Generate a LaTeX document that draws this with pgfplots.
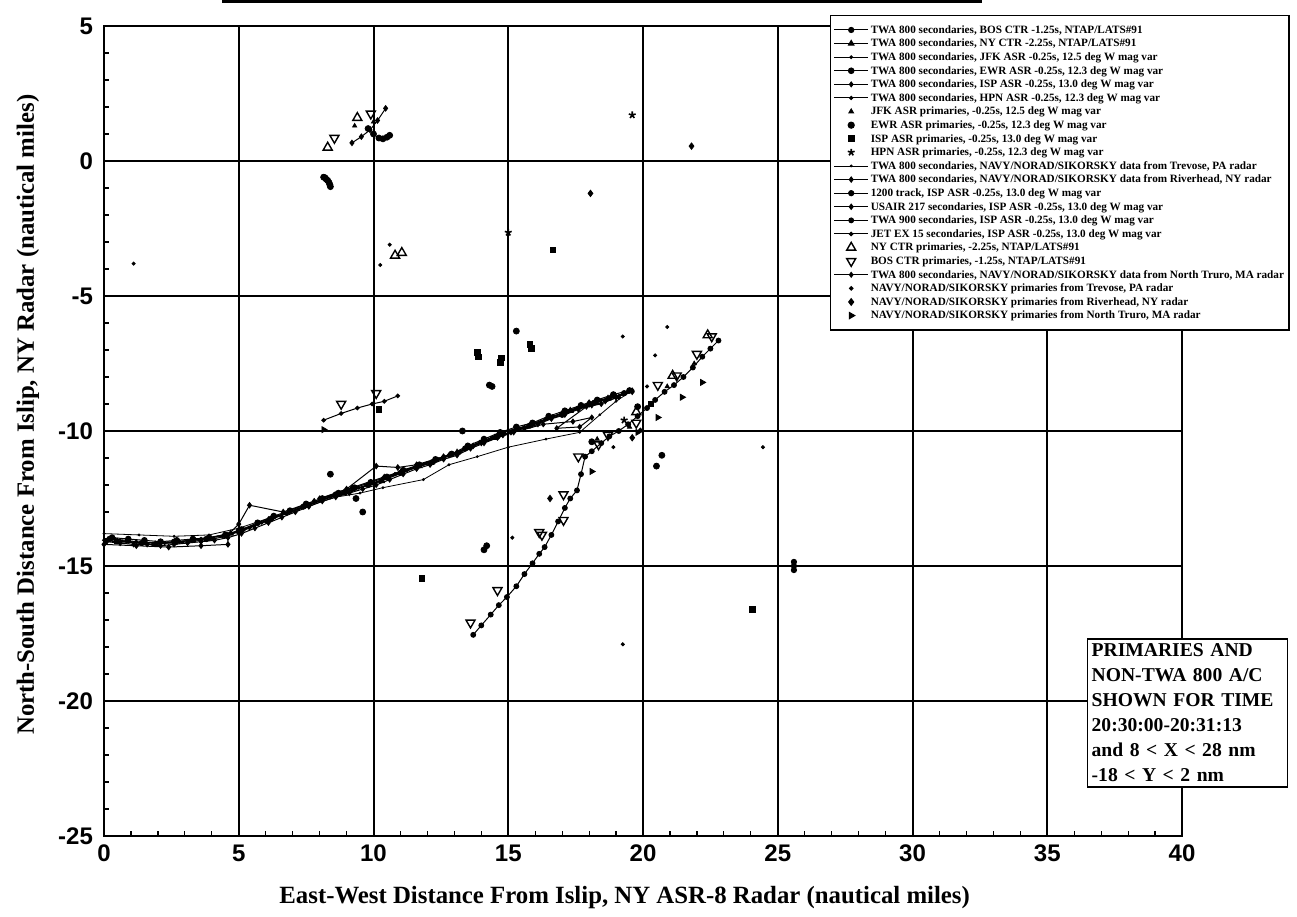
\documentclass[border=0pt]{standalone}
\usepackage{fontspec}
\setmainfont{Liberation Serif}
\newfontfamily\sansf{Liberation Sans}
\usepackage{pgfplots}
\pgfplotsset{compat=1.18}
\pgfplotsset{
  trk/.style={black, line width=0.5pt, mark options={solid, fill=black}},
  prm/.style={black, only marks, mark options={solid, fill=black}},
}
\begin{document}
\begin{tikzpicture}
\begin{axis}[
  name=ax,
  scale only axis,
  width=539pt, height=405pt,
  xmin=0, xmax=40, ymin=-25, ymax=5,
  xtick={0,5,...,40}, ytick={-25,-20,...,5},
  minor tick num=4,
  xtick pos=left, ytick pos=left,
  tick align=inside,
  minor tick length=2.6pt, major tick length=0pt,
  grid=major,
  major grid style={black, line width=1pt},
  axis line style={black, line width=1pt},
  tick style={black, line width=0.6pt},
  /pgf/number format/assume math mode=true,
  tick label style={font=\sansf\bfseries\fontsize{12}{12}\selectfont},
  xticklabel style={yshift=-1pt},
  yticklabel style={xshift=-2pt},
  xlabel={East-West Distance From Islip, NY ASR-8 Radar (nautical miles)},
  ylabel={North-South Distance From Islip, NY Radar (nautical miles)},
  label style={font=\bfseries\fontsize{12.4}{14}\selectfont},
  xlabel style={at={(axis description cs:0.483,0)}, anchor=center, yshift=-31pt},
  ylabel style={at={(axis description cs:-0.0705,0.52)}, anchor=center},
  clip=false,
  legend cell align=left,
  legend style={at={(0.6735,1.0136)}, anchor=north west, draw=black, line width=0.6pt,
    fill=white, font=\bfseries\fontsize{5.6}{6}\selectfont,
    inner xsep=1.5pt, inner ysep=3.8pt,
    nodes={inner ysep=0.5pt, inner xsep=1pt, text height=4.6pt, text depth=1.2pt}},
]
% 1 BOS CTR secondaries
\addplot[trk, mark=*, mark size=1.3pt] coordinates {
(0.2,-14.0) (1.4,-14.15) (2.6,-14.1) (3.8,-14.0) (5.0,-13.7) (6.2,-13.25) (7.4,-12.8)
(8.6,-12.35) (9.8,-12.0) (11.0,-11.55) (12.2,-11.15) (13.4,-10.65) (14.6,-10.2)
(15.8,-9.8) (17.0,-9.4) (18.2,-8.95) (19.3,-8.6)};
\addlegendentry{TWA 800 secondaries, BOS CTR -1.25s, NTAP/LATS\#91}
% 2 NY CTR secondaries
\addplot[trk, mark=triangle*, mark size=1.6pt] coordinates {
(0.5,-14.1) (1.9,-14.2) (3.3,-14.05) (4.7,-13.8) (6.1,-13.3) (7.5,-12.75) (8.9,-12.3)
(10.3,-11.85) (11.7,-11.3) (13.1,-10.8) (14.5,-10.25) (15.9,-9.75) (17.3,-9.25) (18.7,-8.8)};
\addlegendentry{TWA 800 secondaries, NY CTR -2.25s, NTAP/LATS\#91}
% 3 JFK ASR secondaries
\addplot[trk, mark=*, mark size=0.7pt] coordinates {
(0.0,-14.05) (0.45,-14.1) (0.9,-14.1) (1.35,-14.15) (1.8,-14.2) (2.25,-14.15) (2.7,-14.15)
(3.15,-14.1) (3.6,-14.05) (4.05,-14.0) (4.5,-13.9) (4.95,-13.75) (5.4,-13.6) (5.85,-13.4)
(6.3,-13.2) (6.75,-13.05) (7.2,-12.9) (7.65,-12.7) (8.1,-12.55) (8.55,-12.4) (9.0,-12.25)
(9.45,-12.1) (9.9,-11.95) (10.35,-11.8) (10.8,-11.6) (11.25,-11.45) (11.7,-11.3)
(12.15,-11.2) (12.6,-11.0) (13.05,-10.85) (13.5,-10.6) (13.95,-10.4) (14.4,-10.25)
(14.85,-10.05) (15.3,-9.9) (15.75,-9.8) (16.2,-9.65) (16.65,-9.45) (17.1,-9.3)
(17.55,-9.15) (18.0,-9.0) (18.45,-8.85) (18.9,-8.7)};
\addlegendentry{TWA 800 secondaries, JFK ASR -0.25s, 12.5 deg W mag var}
% 4 EWR ASR secondaries
\addplot[trk, mark=*, mark size=1.4pt] coordinates {
(0.3,-13.95) (0.9,-14.0) (1.5,-14.05) (2.1,-14.1) (2.7,-14.05) (3.3,-14.0) (3.9,-13.95)
(4.5,-13.85) (5.1,-13.65) (5.7,-13.4) (6.3,-13.15) (6.9,-12.95) (7.5,-12.7) (8.1,-12.5)
(8.7,-12.3) (9.3,-12.1) (9.9,-11.9) (10.5,-11.7) (11.1,-11.45) (11.7,-11.25) (12.3,-11.05)
(12.9,-10.85) (13.5,-10.55) (14.1,-10.3) (14.7,-10.05) (15.3,-9.85) (15.9,-9.7)
(16.5,-9.45) (17.1,-9.25) (17.7,-9.05) (18.3,-8.85) (18.9,-8.65) (19.5,-8.5)};
\addlegendentry{TWA 800 secondaries, EWR ASR -0.25s, 12.3 deg W mag var}
% 5 ISP ASR secondaries
\addplot[trk, mark=diamond*, mark size=1.2pt] coordinates {
(0.1,-14.1) (0.6,-14.15) (1.1,-14.2) (1.6,-14.2) (2.1,-14.25) (2.6,-14.2) (3.1,-14.15)
(3.6,-14.1) (4.1,-14.05) (4.6,-13.95) (5.1,-13.8) (5.6,-13.6) (6.1,-13.4) (6.6,-13.2)
(7.1,-13.0) (7.6,-12.8) (8.1,-12.6) (8.6,-12.45) (9.1,-12.3) (9.6,-12.15) (10.1,-12.0)
(10.6,-11.8) (11.1,-11.6) (11.6,-11.4) (12.1,-11.25) (12.6,-11.05) (13.1,-10.9)
(13.6,-10.65) (14.1,-10.45) (14.6,-10.25) (15.1,-10.05) (15.6,-9.9) (16.1,-9.75)
(16.6,-9.55) (17.1,-9.4) (17.6,-9.2) (18.1,-9.05) (18.6,-8.9) (19.1,-8.75)};
\addlegendentry{TWA 800 secondaries, ISP ASR -0.25s, 13.0 deg W mag var}
% 6 HPN ASR secondaries
\addplot[trk, mark=*, mark size=0.8pt] coordinates {
(0.4,-14.0) (1.2,-14.1) (2.0,-14.15) (2.8,-14.1) (3.6,-14.0) (4.4,-13.9) (5.2,-13.65)
(6.0,-13.35) (6.8,-13.05) (7.6,-12.75) (8.4,-12.45) (9.2,-12.2) (10.0,-11.95) (10.8,-11.6)
(11.6,-11.3) (12.4,-11.05) (13.2,-10.8) (14.0,-10.4) (14.8,-10.05) (15.6,-9.85)
(16.4,-9.55) (17.2,-9.3) (18.0,-9.05) (18.8,-8.75) (19.6,-8.55)};
\addlegendentry{TWA 800 secondaries, HPN ASR -0.25s, 12.3 deg W mag var}
% 7 JFK ASR primaries
\addplot[prm, mark=triangle*, mark size=1.2pt] coordinates {
(18.3,-10.3) (19.5,-9.85) (20.9,-8.35) (21.9,-7.5) (9.3,1.3) (10.0,1.45)};
\addlegendentry{JFK ASR primaries, -0.25s, 12.5 deg W mag var}
% 8 EWR ASR primaries
\addplot[prm, mark=*, mark size=1.5pt] coordinates {
(15.3,-6.3) (14.3,-8.3) (14.4,-8.35) (20.7,-10.9) (20.5,-11.3) (13.3,-10.0) (8.4,-11.6)
(9.6,-13.0) (14.1,-14.4) (14.2,-14.25) (9.8,1.2) (10.0,1.0) (10.2,0.85) (10.35,0.82)
(10.5,0.88) (10.6,0.95) (8.15,-0.6) (8.2,-0.62) (8.25,-0.68) (8.3,-0.72) (8.35,-0.8)
(8.38,-0.88) (8.4,-0.95) (9.35,-12.5) (18.1,-10.4) (19.8,-9.1)};
\addlegendentry{EWR ASR primaries, -0.25s, 12.3 deg W mag var}
% 9 ISP ASR primaries
\addplot[prm, mark=square*, mark size=1.4pt] coordinates {
(15.8,-6.8) (15.85,-6.95) (13.85,-7.1) (13.9,-7.25) (14.75,-7.3) (14.7,-7.45) (16.65,-3.3)
(24.05,-16.6) (11.8,-15.45) (10.2,-9.2) (20.3,-9.0)};
\addlegendentry{ISP ASR primaries, -0.25s, 13.0 deg W mag var}
% 10 HPN ASR primaries
\addplot[prm, mark=star, mark size=1.8pt, mark options={line width=0.8pt}] coordinates {
(19.6,1.7) (15.0,-2.65) (19.3,-9.6)};
\addlegendentry{HPN ASR primaries, -0.25s, 12.3 deg W mag var}
% 11 NAVY Trevose secondaries
\addplot[black, line width=0.4pt, mark=*, mark size=0.5pt] coordinates {
(0.0,-13.8) (1.3,-13.85) (2.6,-13.9) (3.9,-13.85) (5.0,-13.6) (6.2,-13.2) (7.4,-12.85)
(8.6,-12.45) (9.5,-12.3) (10.35,-12.1) (11.85,-11.8) (12.8,-11.25) (13.85,-10.95)
(15.0,-10.6) (16.4,-10.3) (17.65,-10.05) (18.4,-9.4) (19.0,-8.9) (19.6,-8.5)};
\addlegendentry{TWA 800 secondaries, NAVY/NORAD/SIKORSKY data from Trevose, PA radar}
% 12 NAVY Riverhead secondaries
\addplot[trk, mark=diamond*, mark size=1.3pt] coordinates {
(0.0,-14.2) (1.2,-14.25) (2.4,-14.3) (3.6,-14.25) (4.6,-14.2) (4.6,-13.85) (5.0,-13.45)
(5.4,-12.75) (6.65,-13.0) (7.8,-12.6) (9.0,-12.15) (10.1,-11.3) (10.9,-11.35) (11.6,-11.25)
(12.6,-10.95) (13.7,-10.55) (14.8,-10.15) (15.9,-9.75) (17.0,-9.35) (18.0,-8.95)
(19.0,-8.75) (19.6,-8.55)};
\addlegendentry{TWA 800 secondaries, NAVY/NORAD/SIKORSKY data from Riverhead, NY radar}
% 13 1200 track
\addplot[trk, mark=*, mark size=1.3pt] coordinates {
(25.6,-14.85) (25.6,-15.0) (25.6,-15.15)};
\addlegendentry{1200 track, ISP ASR -0.25s, 13.0 deg W mag var}
% 14 USAIR 217
\addplot[trk, mark=diamond*, mark size=1.3pt] coordinates {
(9.2,0.67) (9.55,0.9) (9.87,1.15) (10.15,1.5) (10.45,1.95)};
\addlegendentry{USAIR 217 secondaries, ISP ASR -0.25s, 13.0 deg W mag var}
% 15 TWA 900
\addplot[trk, mark=*, mark size=1.2pt] coordinates {
(13.7,-17.55) (14.0,-17.2) (14.35,-16.8) (14.65,-16.45) (14.95,-16.15) (15.3,-15.75)
(15.6,-15.3) (15.9,-14.9) (16.15,-14.55) (16.35,-14.3) (16.6,-13.85) (16.85,-13.35)
(17.1,-12.85) (17.3,-12.5) (17.55,-12.2) (17.7,-11.6) (17.85,-10.95) (18.1,-10.75)
(18.45,-10.45) (18.75,-10.2) (19.1,-10.0) (19.45,-9.75) (19.8,-9.45) (20.15,-9.15)
(20.45,-8.85) (20.8,-8.55) (21.15,-8.3) (21.5,-8.0) (21.85,-7.65) (22.2,-7.25)
(22.5,-6.95) (22.8,-6.65)};
\addlegendentry{TWA 900 secondaries, ISP ASR -0.25s, 13.0 deg W mag var}
% 16 JET EX 15
\addplot[trk, mark=*, mark size=0.9pt] coordinates {
(8.15,-9.6) (8.8,-9.35) (9.4,-9.15) (9.95,-9.0) (10.4,-8.9) (10.9,-8.7)};
\addlegendentry{JET EX 15 secondaries, ISP ASR -0.25s, 13.0 deg W mag var}
% 17 NY CTR primaries
\addplot[prm, mark=triangle, mark size=2.6pt, mark options={fill=none, line width=0.7pt}] coordinates {
(9.4,1.6) (8.3,0.5) (10.8,-3.5) (11.05,-3.4) (19.75,-9.3) (21.1,-7.95) (22.4,-6.45)};
\addlegendentry{NY CTR primaries, -2.25s, NTAP/LATS\#91}
% 18 BOS CTR primaries
\addplot[prm, mark=triangle, mark size=2.6pt, mark options={fill=none, line width=0.7pt, rotate=180}] coordinates {
(8.55,0.85) (9.9,1.75) (8.8,-9.0) (10.1,-8.6) (13.6,-17.1) (14.6,-15.9) (16.25,-13.85)
(17.05,-13.3) (17.05,-12.35) (17.6,-10.95) (18.7,-10.15) (19.75,-9.7) (20.55,-8.3)
(21.25,-7.95) (22.0,-7.15) (22.55,-6.5) (18.35,-10.5) (16.15,-13.75)};
\addlegendentry{BOS CTR primaries, -1.25s, NTAP/LATS\#91}
% 19 NAVY North Truro secondaries
\addplot[trk, mark=diamond*, mark size=1.2pt] coordinates {
(8.0,-12.5) (9.2,-12.1) (10.4,-11.7) (11.6,-11.3) (12.8,-10.9) (14.0,-10.45) (15.2,-10.05)
(16.3,-9.75) (17.4,-9.65) (18.1,-9.5) (17.65,-9.85) (16.8,-9.9) (17.9,-9.1) (18.45,-9.0)
(19.6,-8.5)};
\addlegendentry{TWA 800 secondaries, NAVY/NORAD/SIKORSKY data from North Truro, MA radar}
% 20 NAVY Trevose primaries
\addplot[prm, mark=*, mark size=0.8pt] coordinates {
(1.1,-3.8) (19.25,-17.9) (24.45,-10.6) (19.25,-6.5) (20.9,-6.15) (20.45,-7.2) (20.15,-8.35)
(15.15,-13.95) (10.6,-3.1) (10.25,-3.85) (19.9,-9.95) (18.9,-10.6)};
\addlegendentry{NAVY/NORAD/SIKORSKY primaries from Trevose, PA radar}
% 21 NAVY Riverhead primaries
\addplot[prm, mark=diamond*, mark size=1.6pt] coordinates {
(18.05,-1.2) (21.8,0.55) (16.55,-12.5) (19.6,-10.25)};
\addlegendentry{NAVY/NORAD/SIKORSKY primaries from Riverhead, NY radar}
% 22 NAVY North Truro primaries
\addplot[prm, mark=triangle*, mark size=1.7pt, mark options={rotate=-90}] coordinates {
(22.2,-8.2) (21.45,-8.75) (20.55,-9.5) (19.8,-10.05) (18.1,-11.5) (8.15,-9.95)};
\addlegendentry{NAVY/NORAD/SIKORSKY primaries from North Truro, MA radar}
% text box
\node[draw=black, line width=0.8pt, fill=white, anchor=north west, align=left,
  text width=96pt, inner xsep=2pt, inner ysep=2.5pt,
  font=\bfseries\fontsize{9.8}{12.5}\selectfont]
  at (axis cs:36.47,-17.67) {PRIMARIES AND\\NON-TWA 800 A/C\\SHOWN FOR TIME\\20:30:00-20:31:13\\and 8 < X < 28 nm\\-18 < Y < 2 nm};
\end{axis}
\draw[black, line width=1.5pt] ([yshift=12pt]ax.north west) ++(59pt,0) -- ++(380pt,0);
\pgfresetboundingbox
\path[use as bounding box] ([xshift=-52pt,yshift=-40.5pt]ax.south west) rectangle ([xshift=57.5pt,yshift=13pt]ax.north east);
\end{tikzpicture}
\end{document}
